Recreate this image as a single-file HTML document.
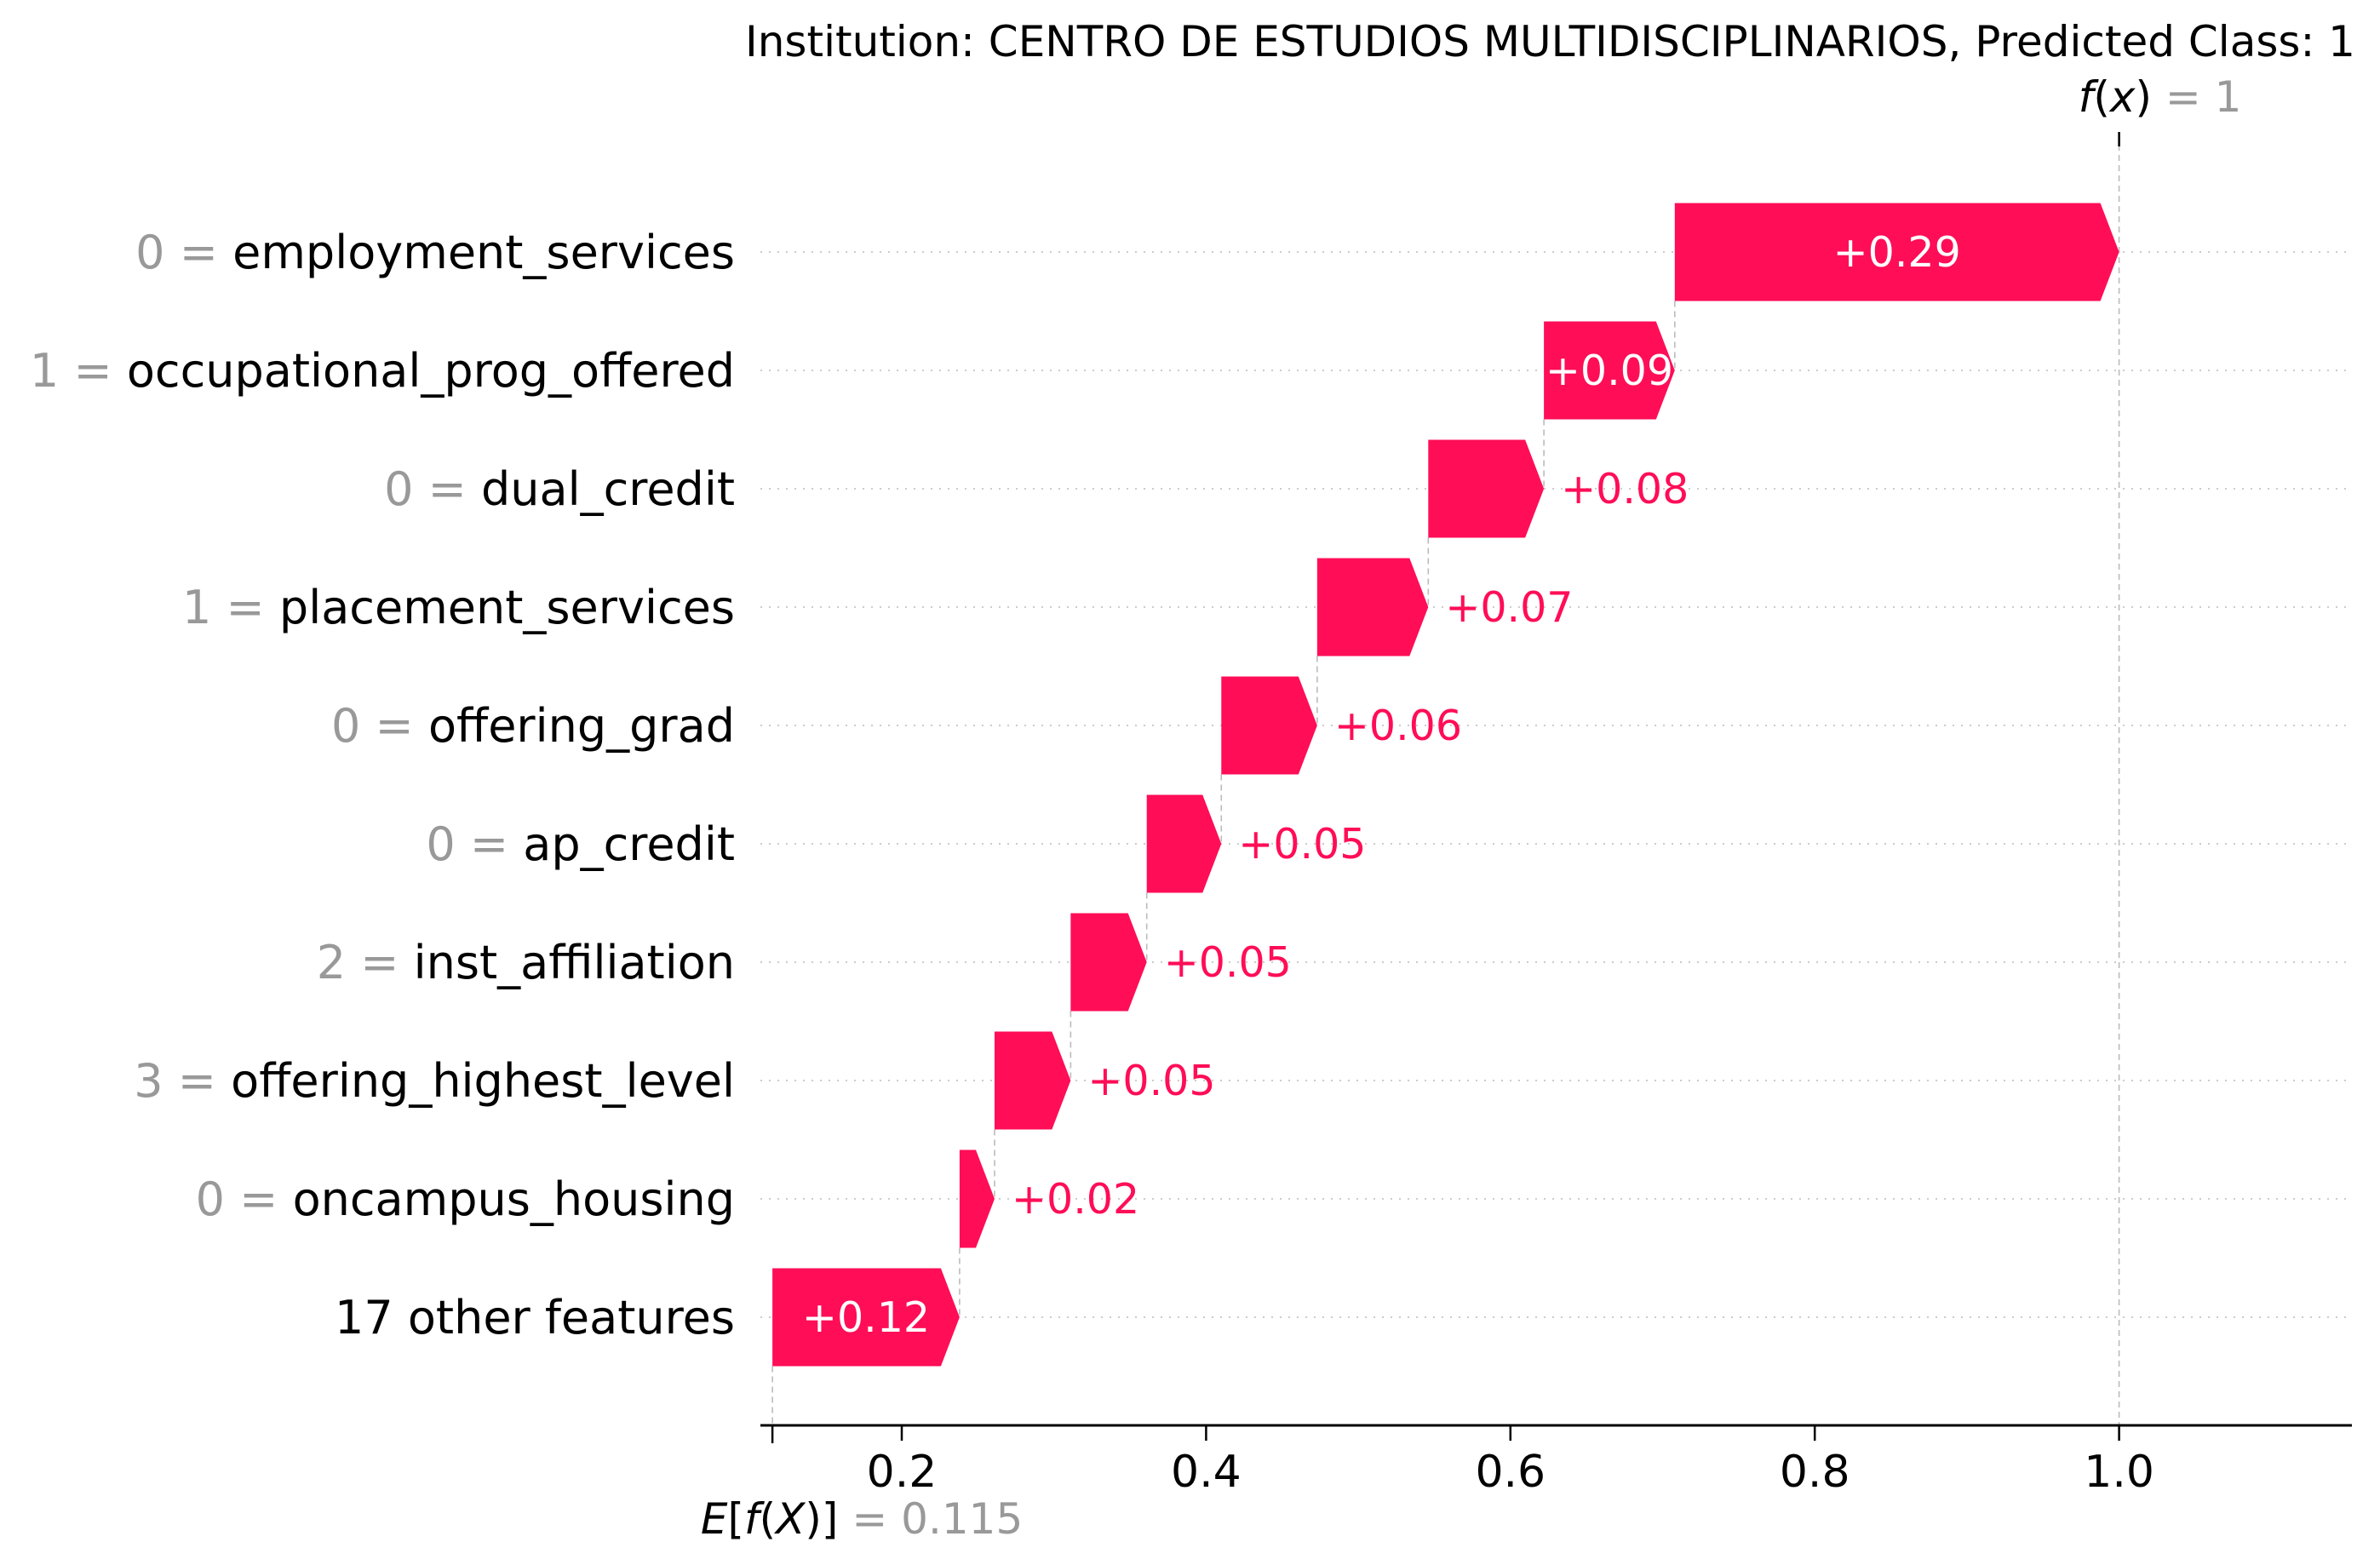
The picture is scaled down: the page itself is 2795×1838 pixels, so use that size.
<!DOCTYPE html>
<html><head><meta charset="utf-8"><style>
html,body{margin:0;padding:0;background:#fff;}
svg{display:block;font-family:"DejaVu Sans","Liberation Sans",sans-serif;}
</style></head><body>
<svg id="chart" width="2795" height="1838" viewBox="0 0 2795 1838" xmlns="http://www.w3.org/2000/svg">
<text x="2766" y="66" text-anchor="end" font-size="50" fill="#000">Institution: CENTRO DE ESTUDIOS MULTIDISCIPLINARIOS, Predicted Class: 1</text>
<g id="grid"></g><g id="conn"></g><g id="bars"></g><g id="labels"></g><g id="axis"></g>
</svg>
<script>
const featureValues = ["0","1","0","1","0","0","2","3","0",""];
const featureNames = ["employment_services","occupational_prog_offered","dual_credit","placement_services","offering_grad","ap_credit","inst_affiliation","offering_highest_level","oncampus_housing","17 other features"];
const contributions = [0.292,0.086,0.076,0.073,0.063,0.049,0.050,0.050,0.023,0.123];
const printedValues = ["+0.29","+0.09","+0.08","+0.07","+0.06","+0.05","+0.05","+0.05","+0.02","+0.12"];
const baseValue = 0.115;
const fxValue = 1;
const tickValues = [0.2,0.4,0.6,0.8,1.0];
const tickLabels = ["0.2","0.4","0.6","0.8","1.0"];

const NS="http://www.w3.org/2000/svg";
const X0=1059, PX=1787;
const AXY=1674;
function xs(v){return X0+(v-0.2)*PX;}
function ys(i){return 296+i*139.0;}
const BH=115, HEAD=22, PINK="#ff0d57";
function mk(tag,attrs,parent){const e=document.createElementNS(NS,tag);for(const k in attrs)e.setAttribute(k,attrs[k]);document.getElementById(parent).appendChild(e);return e;}

const n=featureNames.length;
const starts=new Array(n); let acc=baseValue;
for(let i=n-1;i>=0;i--){starts[i]=acc;acc+=contributions[i];}

for(let i=0;i<n;i++){
  const y=ys(i);
  const g=mk('line',{x1:893,x2:2762,y1:y,y2:y,stroke:'#ccc','stroke-width':2,'stroke-dasharray':'2 8'},'grid');
  
  
  const a=xs(starts[i]), b=xs(starts[i]+contributions[i]);
  const hl=Math.min(HEAD,(b-a)*0.9);
  const p=mk('polygon',{points:`${a},${y-BH/2} ${b-hl},${y-BH/2} ${b},${y} ${b-hl},${y+BH/2} ${a},${y+BH/2}`,fill:PINK},'bars');
  
  
  if(i<n-1){
    const c=mk('line',{x1:a,x2:a,y1:y+BH/2,y2:ys(i+1),stroke:'#bbb','stroke-width':1.6,'stroke-dasharray':'7 5'},'conn');
    
    
  }
  let t;
  if(b-a>145){
    t=mk('text',{x:(a+b)/2,y:y+17,'text-anchor':'middle','font-size':49,fill:'#fff'},'labels');
  } else {
    t=mk('text',{x:b+20,y:y+17,'text-anchor':'start','font-size':49,fill:PINK},'labels');
  }
  t.textContent=printedValues[i];
  
  
  const fl=mk('text',{x:863,y:y+19,'text-anchor':'end','font-size':54,fill:'#000'},'labels');
  
  
  if(featureValues[i]!==""){
    const s=document.createElementNS(NS,'tspan');s.setAttribute('fill','#999');s.textContent=featureValues[i]+' = ';fl.appendChild(s);
  }
  const s2=document.createElementNS(NS,'tspan');s2.textContent=featureNames[i];fl.appendChild(s2);
}
const bl=mk('line',{x1:xs(baseValue),x2:xs(baseValue),y1:ys(n-1)+BH/2,y2:AXY,stroke:'#bbb','stroke-width':1.6,'stroke-dasharray':'7 5'},'conn');


const fl2=mk('line',{x1:xs(fxValue),x2:xs(fxValue),y1:158,y2:AXY,stroke:'#bbb','stroke-width':1.6,'stroke-dasharray':'7 5'},'conn');


const ft=mk('line',{x1:xs(fxValue),x2:xs(fxValue),y1:155,y2:172,stroke:'#000','stroke-width':2.5},'axis');


const ax=mk('line',{x1:893,x2:2762,y1:AXY,y2:AXY,stroke:'#000','stroke-width':3},'axis');


for(let k=0;k<tickValues.length;k++){
  const x=xs(tickValues[k]);
  const tk=mk('line',{x1:x,x2:x,y1:AXY,y2:AXY+18,stroke:'#000','stroke-width':2.5},'axis');
  
  
  const tl=mk('text',{x:x,y:AXY+72,'text-anchor':'middle','font-size':52,fill:'#000'},'axis');
  tl.textContent=tickLabels[k];
  
  
}
const bt=mk('line',{x1:xs(baseValue),x2:xs(baseValue),y1:AXY,y2:AXY+21,stroke:'#000','stroke-width':2.5},'axis');


const ef=mk('text',{x:xs(baseValue)+105,y:1801,'text-anchor':'middle','font-size':50,fill:'#000'},'axis');


ef.innerHTML='<tspan font-style="italic">E</tspan>[<tspan font-style="italic">f</tspan>(<tspan font-style="italic">X</tspan>)] <tspan fill="#999">= '+baseValue+'</tspan>';
const fx=mk('text',{x:xs(fxValue)+48,y:131,'text-anchor':'middle','font-size':50,fill:'#000'},'axis');


fx.innerHTML='<tspan font-style="italic">f</tspan>(<tspan font-style="italic">x</tspan>) <tspan fill="#999">= '+fxValue+'</tspan>';
</script>
</body></html>
